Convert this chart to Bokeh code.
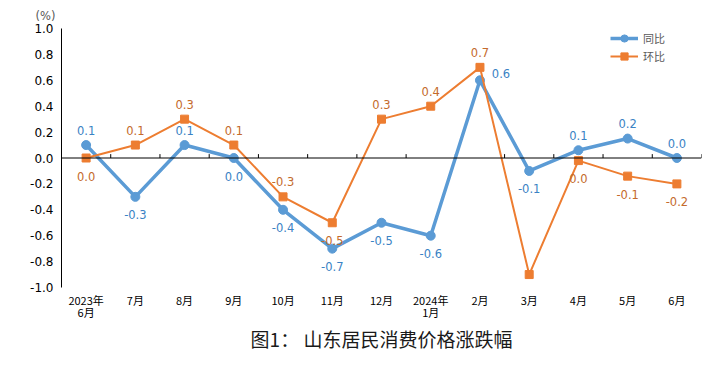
from bokeh.plotting import figure
from bokeh.models import (Range1d, FixedTicker, NumeralTickFormatter, LinearAxis,
                          Title, Legend, LegendItem, ColumnDataSource, Span)
from bokeh.core.properties import value
from bokeh.embed import file_html
from bokeh.resources import INLINE

# ---- data ----
months_line1 = ["2023年", "7月", "8月", "9月", "10月", "11月", "12月",
                "2024年", "2月", "3月", "4月", "5月", "6月"]
months_line2 = {0: "6月", 7: "1月"}
yoy = [0.1, -0.3, 0.1, 0.0, -0.4, -0.7, -0.5, -0.6, 0.6, -0.1, 0.06, 0.15, 0.0]
yoy_labels = ["0.1", "-0.3", "0.1", "0.0", "-0.4", "-0.7", "-0.5", "-0.6",
              "0.6", "-0.1", "0.1", "0.2", "0.0"]
yoy_place = ["above", "below", "above", "below", "below", "below", "below",
             "below", "right", "below", "above", "above", "above"]
mom = [0.0, 0.1, 0.3, 0.1, -0.3, -0.5, 0.3, 0.4, 0.7, -0.9, -0.02, -0.14, -0.2]
mom_labels = ["0.0", "0.1", "0.3", "0.1", "-0.3", "-0.5", "0.3", "0.4",
              "0.7", "-0.9", "0.0", "-0.1", "-0.2"]
mom_place = ["below", "above", "above", "above", "above", "below", "above",
             "above", "above", "below", "below", "below", "below"]
y_ticks = [-1.0, -0.8, -0.6, -0.4, -0.2, 0.0, 0.2, 0.4, 0.6, 0.8, 1.0]
series_names = ["同比", "环比"]
title_text = "图1： 山东居民消费价格涨跌幅"
unit_text = "(%)"

BLUE = "#5B9BD5"
ORANGE = "#ED7D31"
BLUE_TXT = "#3A82C4"
ORANGE_TXT = "#C46A2C"
OFFS = {"above": (0, -15), "below": (0, 18), "right": (21, -7)}

x = list(range(len(months_line1)))

p = figure(width=703, height=351, output_backend="svg", toolbar_location=None,
           x_range=Range1d(-0.5, len(x) - 0.5), y_range=Range1d(-1.0, 1.0),
           min_border_left=61, min_border_right=2, min_border_top=27,
           min_border_bottom=0)
p.outline_line_color = None
p.xgrid.visible = False
p.ygrid.visible = False
p.background_fill_color = "white"
p.border_fill_color = "white"

# unit label as the (top) title
p.title.text = unit_text
p.title.align = "left"
p.title.offset = -26
p.title.standoff = 12
p.title.text_font = "DejaVu Sans"
p.title.text_font_size = "11.5px"
p.title.text_font_style = "normal"
p.title.text_color = "#595959"

# y axis
ya = p.yaxis[0]
ya.ticker = FixedTicker(ticks=y_ticks)
ya.formatter = NumeralTickFormatter(format="0.0")
ya.major_tick_out = 0
ya.major_tick_in = 0
ya.minor_tick_line_color = None
ya.axis_line_color = "black"
ya.major_label_standoff = 8
ya.major_label_text_font = "DejaVu Sans"
ya.major_label_text_font_size = "12px"
ya.major_label_text_color = "#000000"

# x axis (first line of labels)
xa = p.xaxis[0]
xa.ticker = FixedTicker(ticks=x)
xa.major_label_overrides = {i: m for i, m in zip(x, months_line1)}
xa.axis_line_color = None
xa.major_tick_line_color = None
xa.minor_tick_line_color = None
xa.major_tick_out = 0
xa.major_tick_in = 0
xa.major_label_standoff = 4
xa.major_label_text_font = "Noto Sans CJK SC"
xa.major_label_text_font_size = "11px"
xa.major_label_text_color = "#000000"

# second line of the two-line labels
xb = LinearAxis(ticker=FixedTicker(ticks=list(months_line2.keys())))
xb.major_label_overrides = months_line2
xb.axis_line_color = None
xb.major_tick_line_color = None
xb.minor_tick_line_color = None
xb.major_tick_out = 0
xb.major_tick_in = 0
xb.major_label_standoff = -7
xb.major_label_text_font = "Noto Sans CJK SC"
xb.major_label_text_font_size = "11px"
xb.major_label_text_color = "#000000"
p.add_layout(xb, "below")

# chart title below
p.add_layout(Title(text=title_text, align="center", offset=-26, standoff=0,
                   text_font="Noto Sans CJK SC", text_font_size="19px",
                   text_font_style="normal", text_color="#1a1a1a"), "below")

# zero line with boundary ticks
p.add_layout(Span(location=0, dimension="width", line_color="black", line_width=1))
bx = [i + 0.5 for i in x]
p.segment(x0=bx, y0=[0] * len(bx), x1=bx, y1=[0.03] * len(bx),
          line_color="black", line_width=1)

# series
src_b = ColumnDataSource(dict(x=x, y=yoy, t=yoy_labels,
                              xo=[OFFS[k][0] for k in yoy_place],
                              yo=[OFFS[k][1] for k in yoy_place]))
src_o = ColumnDataSource(dict(x=x, y=mom, t=mom_labels,
                              xo=[OFFS[k][0] for k in mom_place],
                              yo=[OFFS[k][1] for k in mom_place]))

bl = p.line("x", "y", source=src_b, line_color=BLUE, line_width=3.5)
bs = p.scatter("x", "y", source=src_b, marker="circle", size=9,
               fill_color=BLUE, line_color=BLUE)
ol = p.line("x", "y", source=src_o, line_color=ORANGE, line_width=2)
os_ = p.scatter("x", "y", source=src_o, marker="square", size=8,
                fill_color=ORANGE, line_color=ORANGE)

p.text("x", "y", text="t", source=src_b, x_offset="xo", y_offset="yo",
       text_align="center", text_baseline="middle",
       text_font=value("DejaVu Sans"), text_font_size="11.5px",
       text_color=BLUE_TXT)
p.text("x", "y", text="t", source=src_o, x_offset="xo", y_offset="yo",
       text_align="center", text_baseline="middle",
       text_font=value("DejaVu Sans"), text_font_size="11.5px",
       text_color=ORANGE_TXT)

legend = Legend(items=[LegendItem(label=series_names[0], renderers=[bl, bs]),
                       LegendItem(label=series_names[1], renderers=[ol, os_])],
                location=(549, 222))
legend.glyph_width = 28
legend.glyph_height = 18
legend.label_height = 18
legend.spacing = 0
legend.padding = 0
legend.margin = 0
legend.label_standoff = 5
legend.label_text_font = "Noto Sans CJK SC"
legend.label_text_font_size = "11px"
legend.label_text_color = "#595959"
legend.background_fill_alpha = 0
legend.border_line_alpha = 0
p.add_layout(legend)

open("out.html", "w").write(file_html(p, INLINE))
